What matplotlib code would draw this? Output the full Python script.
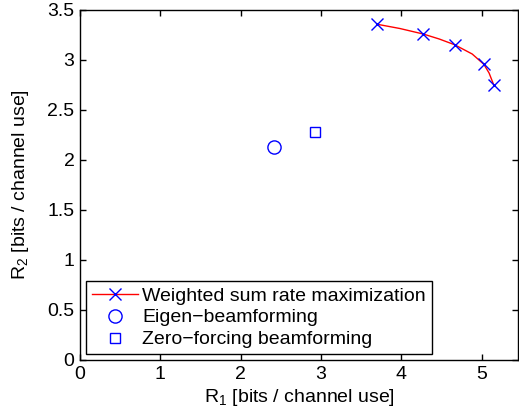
import matplotlib
matplotlib.use('Agg')
import matplotlib.pyplot as plt

plt.rcParams['font.family'] = ['Liberation Sans', 'DejaVu Sans']
plt.rcParams['mathtext.fontset'] = 'custom'
plt.rcParams['mathtext.rm'] = 'Liberation Sans'
plt.rcParams['mathtext.it'] = 'Liberation Sans'

# Weighted sum rate maximization: markers and curve
wsr_r1 = [3.70, 4.27, 4.66, 5.025, 5.15]
wsr_r2 = [3.357, 3.26, 3.153, 2.957, 2.747]
curve_r1 = [3.70, 3.98, 4.27, 4.47, 4.66, 4.88, 5.025, 5.09, 5.15]
curve_r2 = [3.357, 3.315, 3.26, 3.21, 3.153, 3.06, 2.957, 2.87, 2.747]

# single schemes
eigen_r1, eigen_r2 = [2.42], [2.13]
zf_r1, zf_r2 = [2.93], [2.28]

labels = ['Weighted sum rate maximization', 'Eigen\u2212beamforming',
          'Zero\u2212forcing beamforming']
xticks = [0, 1, 2, 3, 4, 5]
yticks = [0, 0.5, 1, 1.5, 2, 2.5, 3, 3.5]

fig = plt.figure(figsize=(5.19, 4.12), dpi=100)
ax = fig.add_axes([80 / 519, 1 - 360 / 412, 438 / 519, 350 / 412])

ax.plot(curve_r1, curve_r2, color='red', linewidth=1)
ax.plot(wsr_r1, wsr_r2, linestyle='none', marker='x', markersize=8,
        markeredgecolor='blue', markeredgewidth=1)
ax.plot(eigen_r1, eigen_r2, linestyle='none', marker='o', markersize=9.5,
        markerfacecolor='none', markeredgecolor='blue', markeredgewidth=1)
ax.plot(zf_r1, zf_r2, linestyle='none', marker='s', markersize=7.5,
        markerfacecolor='none', markeredgecolor='blue', markeredgewidth=1)

# legend handles (line + marker for the first entry)
h1, = ax.plot([], [], color='red', linewidth=1, marker='x', markersize=8,
              markeredgecolor='blue', markeredgewidth=1)
h2, = ax.plot([], [], linestyle='none', marker='o', markersize=9.5,
              markerfacecolor='none', markeredgecolor='blue', markeredgewidth=1)
h3, = ax.plot([], [], linestyle='none', marker='s', markersize=7.5,
              markerfacecolor='none', markeredgecolor='blue', markeredgewidth=1)

leg = ax.legend([h1, h2, h3], labels, loc='lower left', fontsize=14,
                frameon=True, fancybox=False, framealpha=1, edgecolor='black',
                borderaxespad=0.3, handlelength=2.4, handletextpad=0.2,
                labelspacing=0.22, borderpad=0.3)
leg.get_frame().set_linewidth(1)

ax.set_xlim(0, 5.45)
ax.set_ylim(0, 3.5)
ax.set_xticks(xticks)
ax.set_yticks(yticks)
ax.set_xticklabels([str(t) for t in xticks])
ax.set_yticklabels(['0', '0.5', '1', '1.5', '2', '2.5', '3', '3.5'])
ax.tick_params(direction='in', top=True, right=True, length=4, width=1,
               labelsize=14, pad=4)
for s in ax.spines.values():
    s.set_linewidth(1)

ax.set_xlabel(r'R$_1$ [bits / channel use]', fontsize=14, labelpad=3)
ax.set_ylabel(r'R$_2$ [bits / channel use]', fontsize=14, labelpad=12)

fig.savefig('out.png', dpi=100)
